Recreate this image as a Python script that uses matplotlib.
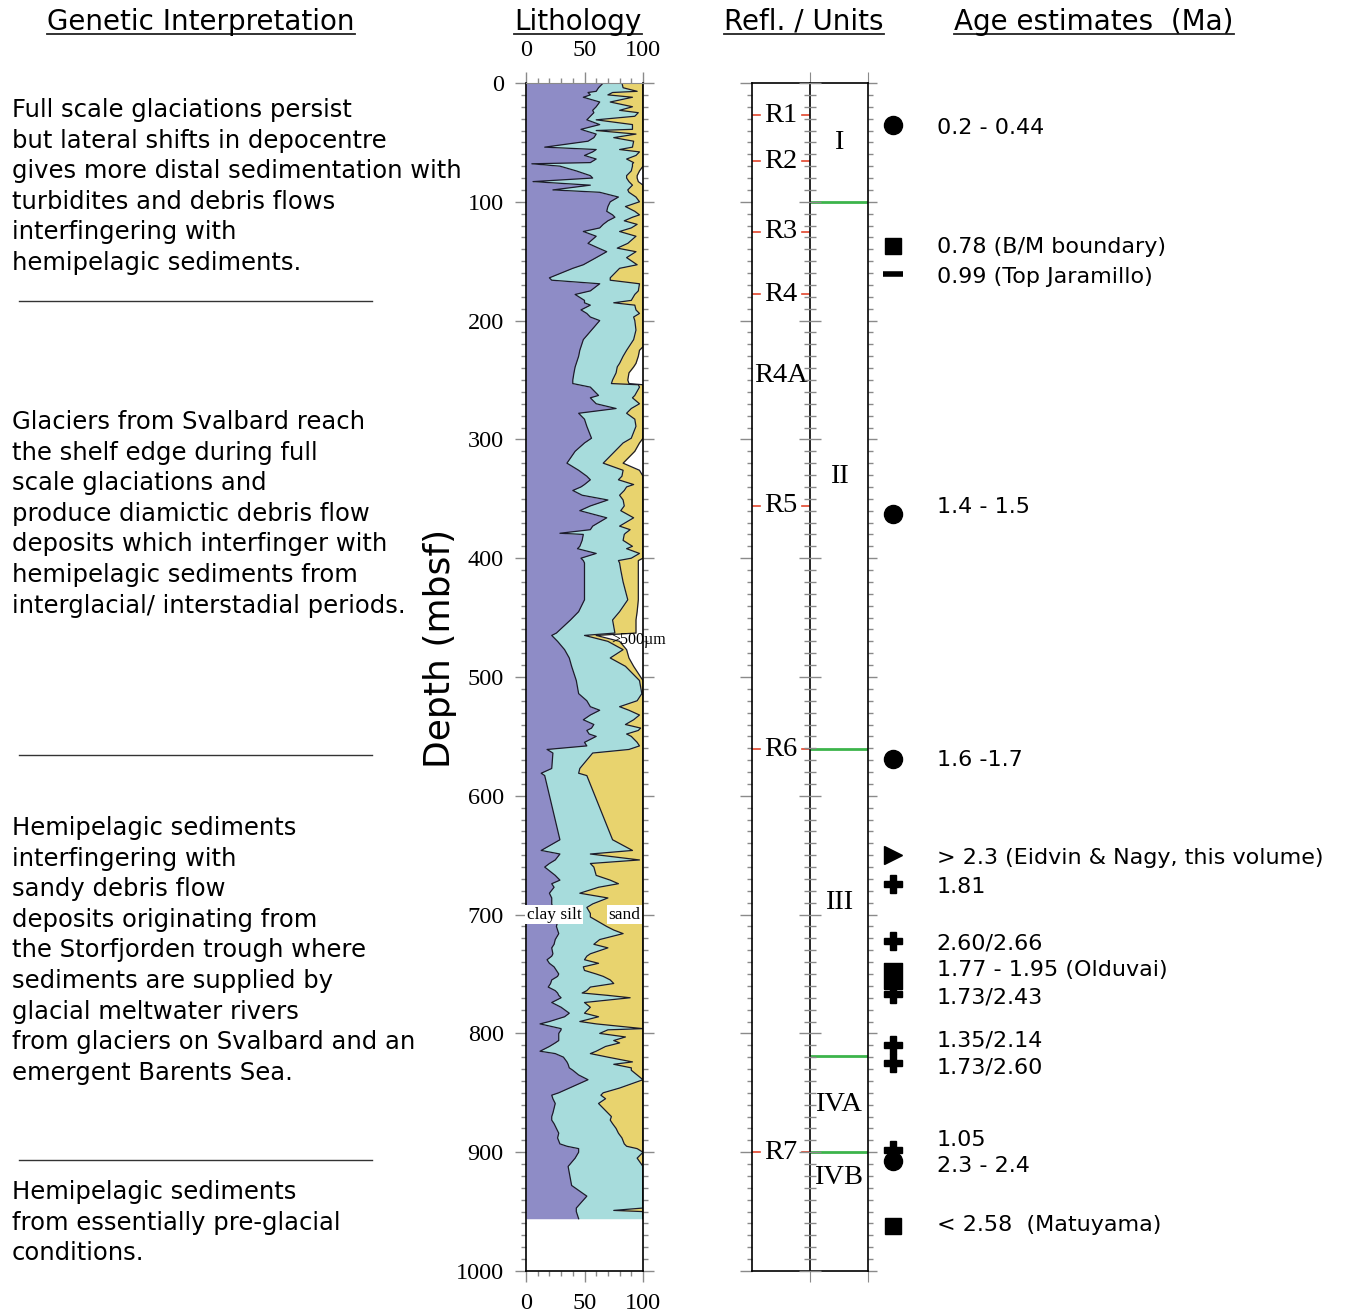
import matplotlib.pyplot as plt
import numpy as np
from matplotlib.ticker import MultipleLocator
from matplotlib.lines import Line2D

W, H = 1369, 1315
SERIF = 'Liberation Serif'

# lithology log: depth (mbsf) and cumulative percentages (clay, clay+silt, clay+silt+sand)
depth = [0, 4, 8, 12, 16, 20, 23, 28, 31, 35, 39, 40, 43, 49, 54, 56, 61, 64, 67, 68,
         70, 74, 78, 80, 83, 86, 90, 92, 96, 100, 108, 113, 116, 119, 122, 125, 129, 135, 142, 147,
         153, 156, 164, 166, 169, 178, 183, 187, 191, 197, 200, 208, 216, 222, 225, 230, 236, 239, 244, 250,
         253, 254, 256, 263, 265, 274, 278, 289, 299, 303, 310, 320, 326, 331, 334, 340, 343, 351, 356, 360,
         366, 373, 376, 379, 380, 385, 390, 396, 400, 402, 404, 410, 420, 435, 445, 452, 463, 465, 470, 477,
         484, 491, 503, 514, 520, 528, 532, 536, 540, 545, 550, 555, 561, 564, 577, 581, 583, 637, 646, 649,
         654, 657, 660, 667, 671, 674, 682, 691, 699, 702, 710, 716, 721, 733, 735, 738, 744, 750, 755, 761,
         764, 768, 770, 774, 778, 783, 790, 792, 796, 797, 800, 806, 808, 815, 817, 820, 824, 829, 831, 839,
         846, 850, 852, 859, 867, 873, 876, 884, 893, 895, 897, 900, 905, 912, 928, 937, 947, 949, 950, 956]
clay_top = [66, 62, 53, 49, 63, 60, 57, 55, 52, 63, 47, 50, 60, 53, 16, 60, 50, 60, 55, 5,
            29, 43, 55, 57, 6, 55, 23, 63, 79, 72, 69, 76, 70, 66, 63, 49, 60, 53, 69, 60,
            49, 40, 20, 22, 63, 42, 50, 55, 47, 55, 63, 56, 49, 47, 46, 45, 43, 42, 41, 40,
            40, 45, 55, 62, 55, 77, 45, 52, 56, 50, 42, 35, 45, 52, 55, 47, 40, 70, 55, 46,
            69, 57, 55, 29, 49, 48, 46, 60, 47, 49, 50, 50, 50, 50, 45, 38, 26, 22, 27, 33,
            37, 39, 43, 45, 52, 63, 55, 49, 58, 52, 60, 50, 18, 23, 22, 13, 16, 29, 13, 29,
            25, 20, 16, 25, 29, 22, 20, 22, 25, 25, 26, 28, 25, 23, 22, 18, 24, 28, 22, 19,
            25, 28, 30, 22, 30, 37, 20, 12, 30, 30, 28, 28, 25, 12, 25, 32, 35, 37, 40, 53,
            37, 28, 22, 25, 23, 22, 24, 28, 29, 35, 45, 45, 42, 36, 39, 52, 43, 43, 43, 45]
silt_top = [82, 83, 74, 91, 72, 91, 80, 93, 60, 91, 91, 60, 94, 92, 91, 80, 94, 86, 92, 91,
            91, 90, 86, 86, 88, 91, 87, 88, 94, 97, 93, 91, 84, 95, 90, 80, 94, 87, 94, 86,
            95, 80, 72, 72, 97, 93, 90, 93, 94, 92, 93, 94, 92, 88, 86, 83, 80, 78, 77, 74,
            73, 96, 97, 93, 91, 90, 86, 94, 90, 83, 76, 66, 83, 82, 79, 86, 84, 83, 84, 81,
            92, 80, 89, 85, 84, 83, 91, 97, 90, 79, 80, 81, 83, 87, 80, 74, 76, 50, 70, 83,
            72, 85, 97, 99, 95, 88, 97, 92, 85, 96, 90, 95, 88, 57, 46, 45, 52, 74, 91, 55,
            97, 55, 58, 60, 72, 79, 46, 57, 55, 55, 69, 83, 63, 55, 52, 50, 49, 60, 72, 55,
            52, 70, 89, 50, 55, 50, 46, 60, 100, 70, 63, 75, 80, 60, 55, 70, 91, 90, 90, 100,
            80, 66, 64, 62, 70, 72, 74, 79, 84, 86, 95, 100, 100, 100, 100, 100, 100, 75, 100, 100]
sand_top = [100, 100, 100, 100, 100, 100, 100, 100, 100, 100, 100, 100, 100, 100, 100, 100, 100, 100, 100, 100,
            100, 97, 95, 95, 96, 100, 100, 100, 100, 100, 100, 100, 100, 100, 100, 100, 100, 100, 100, 100,
            100, 100, 100, 100, 100, 100, 100, 100, 100, 100, 100, 100, 100, 100, 97, 96, 94, 92, 88, 87,
            88, 100, 100, 100, 100, 100, 100, 100, 100, 97, 93, 83, 97, 100, 100, 100, 100, 100, 100, 100,
            100, 100, 100, 100, 100, 100, 100, 100, 100, 96, 96, 96, 96, 96, 95, 94, 94, 60, 80, 86,
            88, 92, 100, 100, 100, 100, 100, 100, 100, 100, 100, 100, 100, 100, 100, 100, 100, 100, 100, 100,
            100, 100, 100, 100, 100, 100, 100, 100, 100, 100, 100, 100, 100, 100, 100, 100, 100, 100, 100, 100,
            100, 100, 100, 100, 100, 100, 100, 100, 100, 100, 100, 100, 100, 100, 100, 100, 100, 100, 100, 100,
            100, 100, 100, 100, 100, 100, 100, 100, 100, 100, 100, 100, 95, 100, 100, 100, 100, 100, 100, 100]

# thin interbeds sampled between the main readings
bed_depth = [7, 10, 25, 46, 58, 104, 111, 139, 175, 185, 194, 270, 283, 338, 347, 392,
             525, 543, 548, 558, 677, 686, 694, 706, 713, 725, 728, 741, 747, 752, 758, 766,
             786, 803, 811, 826, 835, 855, 863, 870, 880, 888]
bed_clay = [60, 55, 58, 58, 57, 70, 74, 62, 55, 50, 52, 60, 50, 50, 48, 44,
            55, 56, 54, 52, 24, 22, 23, 27, 27, 24, 22, 20, 26, 27, 21, 27,
            33, 28, 20, 36, 45, 23, 24, 22, 26, 27]
bed_silt = [95, 70, 96, 75, 97, 85, 97, 78, 96, 75, 97, 97, 93, 92, 80, 86,
            80, 98, 86, 97, 62, 70, 52, 62, 75, 58, 70, 62, 50, 66, 75, 48,
            62, 85, 68, 75, 95, 68, 66, 73, 77, 82]
bed_sand = [100] * 42

refl_names = ['R1', 'R2', 'R3', 'R4', 'R4A', 'R5', 'R6', 'R7']
refl_depths = [27, 66, 125, 178, 246, 356, 561, 900]
unit_names = ['I', 'II', 'III', 'IVA', 'IVB']
unit_label_depths = [50, 331, 690, 860, 921]
unit_bounds = [100, 561, 819, 900]

age_symbol_depths = [35, 137, 161, 363, 569, 650, 674, 722, 752, 767, 810, 825, 898, 907, 962]
age_symbols = ['o', 's', '_', 'o', 'o', '>', 'P', 'P', 'bar', 'P', 'P', 'P', 'P', 'o', 's']
age_labels = ['0.2 - 0.44', '0.78 (B/M boundary)', '0.99 (Top Jaramillo)', '1.4 - 1.5',
              '1.6 -1.7', '> 2.3 (Eidvin & Nagy, this volume)', '1.81', '2.60/2.66',
              '1.77 - 1.95 (Olduvai)', '1.73/2.43', '1.35/2.14', '1.73/2.60', '1.05',
              '2.3 - 2.4', '< 2.58  (Matuyama)']
age_label_depths = [38, 138, 163, 357, 570, 652, 677, 724, 747, 770, 806, 829, 890, 912, 961]

genetic_blocks = [
    ['Full scale glaciations persist', 'but lateral shifts in depocentre',
     'gives more distal sedimentation with', 'turbidites and debris flows',
     'interfingering with', 'hemipelagic sediments.'],
    ['Glaciers from Svalbard reach', 'the shelf edge during full', 'scale glaciations and',
     'produce diamictic debris flow', 'deposits which interfinger with',
     'hemipelagic sediments from', 'interglacial/ interstadial periods.'],
    ['Hemipelagic sediments', 'interfingering with', 'sandy debris flow',
     'deposits originating from', 'the Storfjorden trough where', 'sediments are supplied by',
     'glacial meltwater rivers', 'from glaciers on Svalbard and an', 'emergent Barents Sea.'],
    ['Hemipelagic sediments', 'from essentially pre-glacial', 'conditions.'],
]
block_tops = [110, 422, 828, 1192]
separators = [301, 755, 1160]

PURPLE = '#8e8cc6'
CYAN = '#a7dcdc'
YELLOW = '#e8d36e'
EDGE = '#1c1c2a'
TICK = '#8a8a8a'


def px_axes(x0, x1, y0, y1):
    return fig.add_axes([x0 / W, 1 - y1 / H, (x1 - x0) / W, (y1 - y0) / H])


def fx(x):
    return x / W


def fy(y):
    return 1 - y / H


def depth_ticks(a, side, direction, major_len, minor_len):
    # 100 m major / 10 m minor depth ticks on one side of a column
    a.set_ylim(1000, 0)
    a.set_yticks(range(0, 1001, 100))
    a.yaxis.set_minor_locator(MultipleLocator(10))
    a.tick_params(axis='y', which='both', direction=direction, color=TICK, width=1,
                  left=(side == 'left'), right=(side == 'right'),
                  labelleft=False, labelright=False)
    a.tick_params(axis='y', which='major', length=major_len)
    a.tick_params(axis='y', which='minor', length=minor_len)


fig = plt.figure(figsize=(W / 100, H / 100), dpi=100)

# ---- lithology column
d = np.array(depth + bed_depth)
order = np.argsort(d)
d = d[order]
clay = np.array(clay_top + bed_clay)[order]
silt = np.array(silt_top + bed_silt)[order]
sand = np.array(sand_top + bed_sand)[order]

ax = px_axes(526, 643, 83, 1271)
ax.fill_betweenx(d, 0, clay, color=PURPLE, lw=0)
ax.fill_betweenx(d, clay, silt, color=CYAN, lw=0)
ax.fill_betweenx(d, silt, sand, color=YELLOW, lw=0)
for top in (clay, silt, sand):
    ax.plot(top, d, color=EDGE, lw=0.9)
ax.set_xlim(0, 100)
ax.set_ylim(1000, 0)
ax.set_xticks([0, 50, 100])
ax.set_yticks(range(0, 1001, 100))
ax.xaxis.set_minor_locator(MultipleLocator(10))
ax.yaxis.set_minor_locator(MultipleLocator(10))
ax.tick_params(which='both', direction='out', color=TICK, width=1)
ax.tick_params(which='major', length=8)
ax.tick_params(which='minor', length=3.6)
ax.tick_params(axis='x', which='both', top=True, bottom=True, labeltop=True, labelbottom=True, pad=8)
ax.tick_params(axis='y', which='both', left=True, right=True, pad=8)
for lab in ax.get_xticklabels() + ax.get_yticklabels():
    lab.set_fontfamily(SERIF)
    lab.set_fontsize(17.5)
ax.spines['top'].set_color(TICK)
for s in ('left', 'right', 'bottom'):
    ax.spines[s].set_color('black')
    ax.spines[s].set_linewidth(1.2)

ax.text(0.5, 700, 'clay silt', family=SERIF, fontsize=12.5, va='center', ha='left',
        bbox=dict(fc='white', ec='none', pad=1))
ax.text(98, 700, 'sand', family=SERIF, fontsize=12.5, va='center', ha='right',
        bbox=dict(fc='white', ec='none', pad=1))
ax.text(73, 469, '>500µm', family=SERIF, fontsize=11.5, va='center', ha='left', clip_on=False)

fig.text(fx(440), fy(648), 'Depth (mbsf)', rotation=90, fontsize=26, ha='center', va='center')

# ---- reflectors / units column
ar = px_axes(752, 810, 83, 1271)
au = px_axes(810, 868, 83, 1271)
for a in (ar, au):
    a.set_xlim(0, 1)
    for s in a.spines.values():
        s.set_color('black')
        s.set_linewidth(1.2)
ar.spines['right'].set_visible(False)
ar.set_xticks([])
depth_ticks(ar, 'left', 'out', 8.5, 3.6)
au.set_xticks([0, 1])
au.set_xticklabels([])
au.tick_params(axis='x', direction='out', length=8, color=TICK, top=True, bottom=True)
depth_ticks(au, 'right', 'out', 6.5, 3.6)

# ticks crossing the line between the two columns, drawn above both
am = px_axes(752, 810, 83, 1271)
am.set_zorder(5)
am.patch.set_visible(False)
for s in am.spines.values():
    s.set_visible(False)
am.set_xticks([])
depth_ticks(am, 'right', 'inout', 16.5, 8)

for name, dep in zip(refl_names, refl_depths):
    if name == 'R4A':
        ar.text(0.5, dep, name, family=SERIF, fontsize=20.5, ha='center', va='center',
                bbox=dict(fc='white', ec='none', pad=0))
        continue
    ar.text(0.5, dep, name, family=SERIF, fontsize=20.5, ha='center', va='center')
    ar.plot([0.02, 0.14], [dep, dep], color='#e2452c', lw=1.2)
    ar.plot([0.86, 0.98], [dep, dep], color='#e2452c', lw=1.2)

for b in unit_bounds:
    au.axhline(b, color='#3cb44b', lw=2)
for name, dep in zip(unit_names, unit_label_depths):
    au.text(0.5, dep, name, family=SERIF, fontsize=20.5, ha='center', va='center',
            bbox=dict(fc='white', ec='none', pad=0) if name.startswith('IV') else None)

# ---- age estimates
aa = px_axes(870, 1369, 83, 1271)
aa.set_xlim(0, 1)
aa.set_ylim(1000, 0)
aa.axis('off')
bar_marker = [(-0.35, -0.5), (0.35, -0.5), (0.35, 0.5), (-0.35, 0.5), (-0.35, -0.5)]
sym_style = {'o': dict(marker='o', ms=13), 's': dict(marker='s', ms=12),
             '_': dict(marker='_', ms=15, mew=4), '>': dict(marker='>', ms=13),
             'P': dict(marker='P', ms=12.5), 'bar': dict(marker=bar_marker, ms=19)}
for dep, sym in zip(age_symbol_depths, age_symbols):
    aa.plot([0.046], [dep], color='black', mec='black', ls='none', **sym_style[sym])
for dep, txt in zip(age_label_depths, age_labels):
    aa.text(0.134, dep, txt, fontsize=16, ha='left', va='center')

# ---- genetic interpretation text
for top, lines in zip(block_tops, genetic_blocks):
    for i, line in enumerate(lines):
        fig.text(fx(12), fy(top + i * 30.6), line, fontsize=17.5, ha='left', va='center')
for y in separators:
    fig.add_artist(Line2D([fx(19), fx(372)], [fy(y), fy(y)], color='#333333', lw=1))

# ---- column headers, underlined
headers = [('Genetic Interpretation', 201), ('Lithology', 578),
           ('Refl. / Units', 804), ('Age estimates  (Ma)', 1094)]
htexts = [fig.text(fx(x), fy(30), t, fontsize=20, ha='center', va='baseline')
          for t, x in headers]
fig.canvas.draw()
for t in htexts:
    bb = t.get_window_extent()
    fig.add_artist(Line2D([bb.x0 / W, bb.x1 / W], [fy(33.5), fy(33.5)], color='#222222', lw=1.3))

fig.savefig('out.png', dpi=100)
